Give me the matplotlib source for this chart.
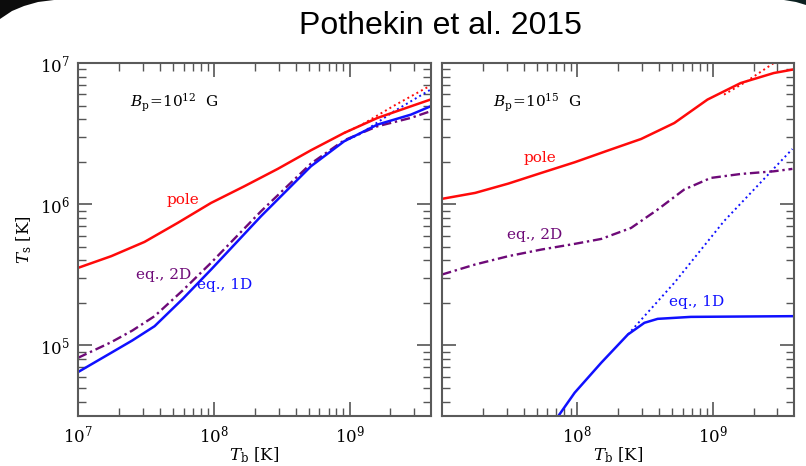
import numpy as np
import matplotlib.pyplot as plt
from matplotlib.patches import Polygon
from matplotlib.ticker import LogLocator, NullFormatter, FuncFormatter

plt.rcParams['font.family'] = ['DejaVu Serif']
plt.rcParams['mathtext.fontset'] = 'dejavuserif'

RED = '#ff0a0a'
BLUE = '#1010ff'
PURPLE = '#6e0a78'

# log10 T_b and log10 T_s, B_p = 1e12 G
l_pole_x = [7.0, 7.245, 7.490, 7.735, 7.980, 8.225, 8.471, 8.716, 8.961, 9.206, 9.451, 9.596]
l_pole_y = [5.549, 5.632, 5.733, 5.868, 6.009, 6.127, 6.250, 6.382, 6.505, 6.611, 6.693, 6.741]
l_pole_dot_x = [8.961, 9.083, 9.328, 9.596]
l_pole_dot_y = [6.505, 6.559, 6.698, 6.840]
l_1d_x = [7.0, 7.245, 7.400, 7.564, 7.772, 7.980, 8.348, 8.716, 8.961, 9.206, 9.451, 9.596]
l_1d_y = [4.811, 4.948, 5.035, 5.136, 5.330, 5.537, 5.915, 6.269, 6.446, 6.564, 6.634, 6.693]
l_1d_dot_x = [8.961, 9.083, 9.328, 9.596]
l_1d_dot_y = [6.446, 6.500, 6.658, 6.811]
l_2d_x = [7.0, 7.245, 7.400, 7.564, 7.772, 7.980, 8.348, 8.716, 8.961, 9.206, 9.451, 9.596]
l_2d_y = [4.912, 5.023, 5.105, 5.207, 5.390, 5.585, 5.950, 6.288, 6.453, 6.552, 6.611, 6.658]

# B_p = 1e15 G
r_pole_x = [7.0, 7.245, 7.490, 7.735, 7.980, 8.225, 8.471, 8.716, 8.961, 9.206, 9.451, 9.588]
r_pole_y = [6.038, 6.080, 6.146, 6.222, 6.297, 6.380, 6.462, 6.575, 6.741, 6.858, 6.929, 6.953]
r_pole_dot_x = [9.083, 9.250, 9.451, 9.588]
r_pole_dot_y = [6.776, 6.870, 7.0, 7.083]
r_2d_x = [7.0, 7.245, 7.490, 7.735, 7.980, 8.176, 8.397, 8.593, 8.789, 8.985, 9.206, 9.451, 9.588]
r_2d_y = [5.502, 5.573, 5.632, 5.679, 5.719, 5.754, 5.832, 5.962, 6.104, 6.186, 6.214, 6.233, 6.250]
r_1d_x = [7.833, 7.980, 8.176, 8.373, 8.495, 8.593, 8.838, 9.588]
r_1d_y = [4.464, 4.665, 4.877, 5.077, 5.160, 5.188, 5.202, 5.207]
r_1d_dot_x = [8.373, 8.716, 9.083, 9.588]
r_1d_dot_y = [5.077, 5.443, 5.880, 6.391]

W, H = 806, 466
fig = plt.figure(figsize=(W / 100, H / 100), dpi=100)

# dark slide corners
def px(pts):
    return [(x / W, 1 - y / H) for x, y in pts]

fig.add_artist(Polygon(px([(0, 0), (54, 0), (38, 2), (24, 6), (12, 11), (0, 19)]),
                       closed=True, color='#0c0c0c', transform=fig.transFigure, lw=0))
fig.add_artist(Polygon(px([(784, 0), (806, 0), (806, 5), (796, 2)]),
                       closed=True, color='#0c2020', transform=fig.transFigure, lw=0))

fig.text(440 / W, 1 - 26 / H, 'Pothekin et al. 2015', ha='center', va='center',
         fontsize=23, family=['Liberation Sans'])

ax1 = fig.add_axes([78 / W, 1 - 416 / H, 353 / W, 353 / H])
ax2 = fig.add_axes([442 / W, 1 - 416 / H, 352 / W, 353 / H])

def p(v):
    return 10 ** np.asarray(v)

DASHDOT = (4, 1.6, 1, 1.6)

ax1.plot(p(l_pole_dot_x), p(l_pole_dot_y), ':', color=RED, lw=1.4)
ax1.plot(p(l_1d_dot_x), p(l_1d_dot_y), ':', color=BLUE, lw=1.4)
ax1.plot(p(l_pole_x), p(l_pole_y), '-', color=RED, lw=1.8)
ax1.plot(p(l_2d_x), p(l_2d_y), '-.', color=PURPLE, lw=1.7, dashes=DASHDOT)
ax1.plot(p(l_1d_x), p(l_1d_y), '-', color=BLUE, lw=1.8)

ax2.plot(p(r_pole_dot_x), p(r_pole_dot_y), ':', color=RED, lw=1.4)
ax2.plot(p(r_1d_dot_x), p(r_1d_dot_y), ':', color=BLUE, lw=1.4)
ax2.plot(p(r_pole_x), p(r_pole_y), '-', color=RED, lw=1.8)
ax2.plot(p(r_2d_x), p(r_2d_y), '-.', color=PURPLE, lw=1.7, dashes=DASHDOT)
ax2.plot(p(r_1d_x), p(r_1d_y), '-', color=BLUE, lw=1.8)

def exp_label(v, pos):
    return r'$10^{%d}$' % round(np.log10(v))

for ax in (ax1, ax2):
    ax.set_xscale('log')
    ax.set_yscale('log')
    ax.set_xlim(1e7, 10 ** 9.6)
    ax.set_ylim(10 ** 4.5, 1e7)
    ax.xaxis.set_major_locator(LogLocator(base=10, numticks=10))
    ax.xaxis.set_minor_locator(LogLocator(base=10, subs=np.arange(2, 10), numticks=20))
    ax.yaxis.set_minor_locator(LogLocator(base=10, subs=np.arange(2, 10), numticks=20))
    ax.xaxis.set_minor_formatter(NullFormatter())
    ax.yaxis.set_minor_formatter(NullFormatter())
    ax.tick_params(which='both', direction='in', top=True, right=True,
                   color='#555555', labelsize=12)
    ax.tick_params(which='major', length=10, width=1.2, pad=6)
    ax.tick_params(which='minor', length=5.5, width=1.0)
    for s in ax.spines.values():
        s.set_color('#5a5a5a')
        s.set_linewidth(1.5)
    ax.set_xlabel(r'$T_{\rm b}$ [K]', fontsize=12, labelpad=-1)

ax1.xaxis.set_major_formatter(FuncFormatter(exp_label))
ax1.yaxis.set_major_formatter(FuncFormatter(exp_label))
ax2.xaxis.set_major_formatter(FuncFormatter(lambda v, pos: '' if v < 5e7 else exp_label(v, pos)))
ax2.yaxis.set_major_formatter(NullFormatter())
ax1.set_ylabel(r'$T_{\rm s}$ [K]', fontsize=12, labelpad=4)

ax1.text(0.147, 0.887, r'$B_{\rm p}\!=\!10^{12}$  G', transform=ax1.transAxes,
         fontsize=11, va='center')
ax2.text(0.145, 0.887, r'$B_{\rm p}\!=\!10^{15}$  G', transform=ax2.transAxes,
         fontsize=11, va='center')

ax1.text(10 ** 7.772, 10 ** 6.03, 'pole', color=RED, fontsize=11, ha='center', va='center')
ax1.text(10 ** 7.632, 10 ** 5.50, 'eq., 2D', color=PURPLE, fontsize=11, ha='center', va='center')
ax1.text(10 ** 8.081, 10 ** 5.429, 'eq., 1D', color=BLUE, fontsize=11, ha='center', va='center')
ax2.text(10 ** 7.72, 10 ** 6.328, 'pole', color=RED, fontsize=11, ha='center', va='center')
ax2.text(10 ** 7.684, 10 ** 5.783, 'eq., 2D', color=PURPLE, fontsize=11, ha='center', va='center')
ax2.text(10 ** 8.882, 10 ** 5.309, 'eq., 1D', color=BLUE, fontsize=11, ha='center', va='center')

fig.savefig('out.png', dpi=100)
